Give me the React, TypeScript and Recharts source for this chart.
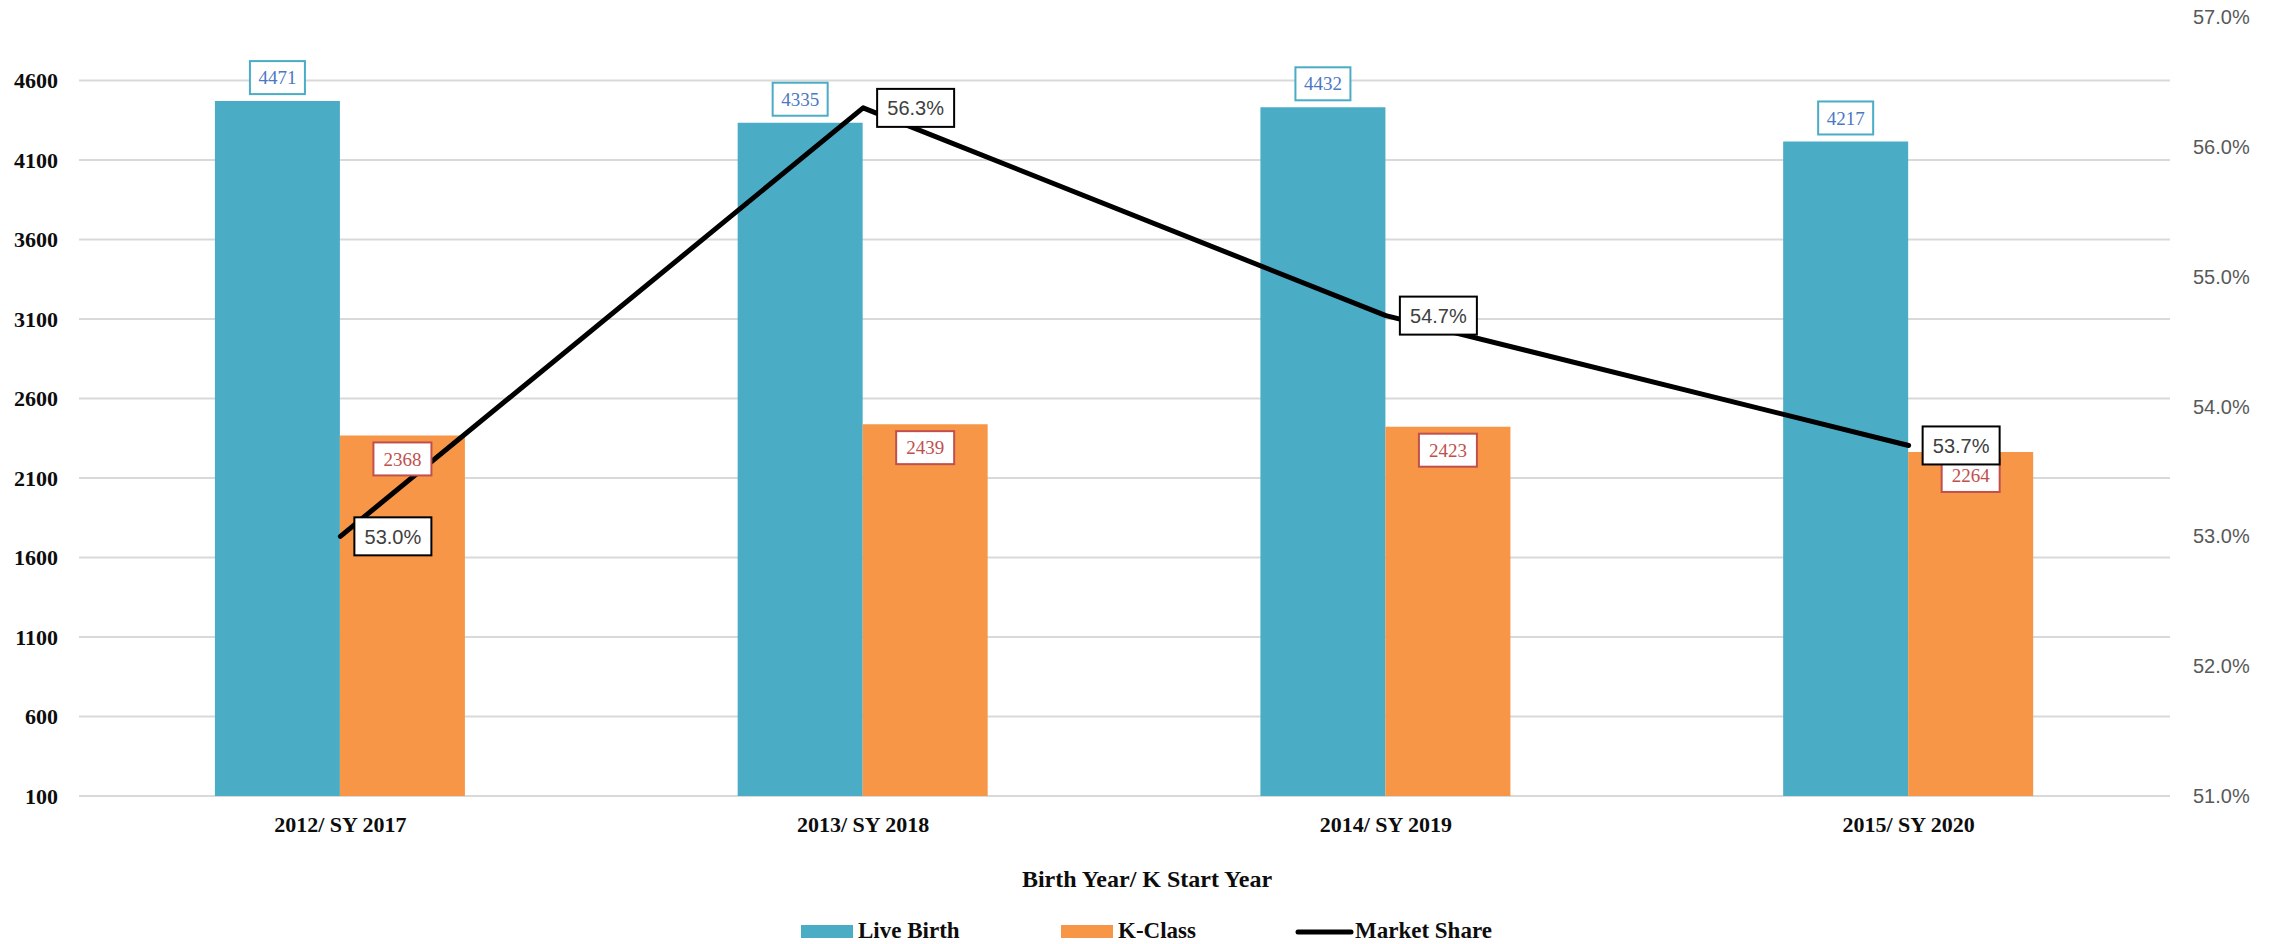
import React from 'react';
import { ComposedChart, Bar, Line, XAxis, YAxis, CartesianGrid, LabelList } from 'recharts';

const categories = ['2012/ SY 2017', '2013/ SY 2018', '2014/ SY 2019', '2015/ SY 2020'];
const liveBirth = [4471, 4335, 4432, 4217];
const kClass = [2368, 2439, 2423, 2264];
const marketShare = [53.0, 56.3, 54.7, 53.7];
const leftTicks = [100, 600, 1100, 1600, 2100, 2600, 3100, 3600, 4100, 4600];
const rightTicks = [51, 52, 53, 54, 55, 56, 57];

const data = categories.map((c, i) => ({ name: c, live: liveBirth[i], k: kClass[i], share: marketShare[i] }));

const BLUE = '#4bacc6';
const ORANGE = '#f79646';
const SERIF = '"Liberation Serif", serif';
const SANS = '"Liberation Sans", sans-serif';

const LiveLabel = (p: any) => {
  const { x, y, width, value } = p;
  const cx = Number(x) + Number(width) / 2;
  const w = 55, h = 33;
  const top = Number(y) - 7 - h;
  return (
    <g>
      <rect x={cx - w / 2} y={top} width={w} height={h} fill="#fff" stroke={BLUE} strokeWidth={2} />
      <text x={cx} y={top + h / 2} dy="0.35em" textAnchor="middle" fontFamily={SERIF} fontSize={19} fill="#4a78c2">{value}</text>
    </g>
  );
};

const KLabel = (p: any) => {
  const { x, y, width, value } = p;
  const cx = Number(x) + Number(width) / 2;
  const w = 58, h = 33;
  const top = Number(y) + 7;
  return (
    <g>
      <rect x={cx - w / 2} y={top} width={w} height={h} fill="#fff" stroke="#c0504d" strokeWidth={2} />
      <text x={cx} y={top + h / 2} dy="0.35em" textAnchor="middle" fontFamily={SERIF} fontSize={19} fill="#c0504d">{value}</text>
    </g>
  );
};

const ShareLabel = (p: any) => {
  const { x, y, value } = p;
  const w = 77, h = 38;
  const left = Number(x) + 14;
  const top = Number(y) - h / 2;
  return (
    <g>
      <rect x={left} y={top} width={w} height={h} fill="#fff" stroke="#000" strokeWidth={2} />
      <text x={left + w / 2} y={Number(y)} dy="0.36em" textAnchor="middle" fontFamily={SANS} fontSize={20} fill="#404040">{Number(value).toFixed(1) + '%'}</text>
    </g>
  );
};

const GridLine = (p: any) => {
  const { x1, y1, x2, y2, y } = p;
  if (Math.abs(Number(y1) - Number(y)) < 1) return <g />;
  return <line x1={x1} y1={y1} x2={x2} y2={y2} stroke="#d9d9d9" strokeWidth={2} />;
};

const tickStyle = { fontFamily: SERIF, fontWeight: 700, fontSize: 22, fill: '#0d0d0d' };

export default function App() {
  return (
    <div style={{ position: 'absolute', left: 0, top: 0, width: 2282, height: 944, background: '#fff' }}>
      <ComposedChart
        width={2282}
        height={944}
        data={data}
        margin={{ top: 17, right: 0, bottom: 88, left: 0 }}
        barGap={0}
        barCategoryGap="26%"
      >
        <CartesianGrid yAxisId="left" horizontal={GridLine} vertical={false} stroke="#d9d9d9" strokeWidth={2} />
        <XAxis
          dataKey="name"
          axisLine={false}
          tickLine={false}
          tickSize={0}
          tickMargin={20}
          height={60}
          tick={tickStyle}
        />
        <YAxis
          yAxisId="left"
          orientation="left"
          domain={[100, 5000]}
          ticks={leftTicks}
          axisLine={false}
          tickLine={false}
          tickSize={0}
          tickMargin={21}
          width={79}
          tick={tickStyle}
          allowDataOverflow
        />
        <YAxis
          yAxisId="right"
          orientation="right"
          domain={[51, 57]}
          ticks={rightTicks}
          axisLine={false}
          tickLine={false}
          tickSize={0}
          tickMargin={23}
          width={112}
          tickFormatter={(v: number) => v.toFixed(1) + '%'}
          tick={{ fontFamily: SANS, fontSize: 20, fill: '#595959' }}
          allowDataOverflow
        />
        <Bar yAxisId="left" dataKey="live" name="Live Birth" fill={BLUE} isAnimationActive={false}>
          <LabelList dataKey="live" content={LiveLabel} />
        </Bar>
        <Bar yAxisId="left" dataKey="k" name="K-Class" fill={ORANGE} isAnimationActive={false}>
          <LabelList dataKey="k" content={KLabel} />
        </Bar>
        <Line
          yAxisId="right"
          type="linear"
          dataKey="share"
          name="Market Share"
          stroke="#000"
          strokeWidth={5}
          strokeLinecap="round"
          strokeLinejoin="round"
          dot={false}
          activeDot={false}
          isAnimationActive={false}
        >
          <LabelList dataKey="share" content={ShareLabel} />
        </Line>
      </ComposedChart>
      <svg width={2282} height={944} style={{ position: 'absolute', left: 0, top: 0, pointerEvents: 'none' }}>
        <text x={1147} y={887} textAnchor="middle" fontFamily={SERIF} fontWeight={700} fontSize={24} fill="#0d0d0d">Birth Year/ K Start Year</text>
        <rect x={801} y={925} width={52} height={13} fill={BLUE} />
        <text x={858} y={938} fontFamily={SERIF} fontWeight={700} fontSize={23} fill="#0d0d0d">Live Birth</text>
        <rect x={1061} y={925} width={52} height={13} fill={ORANGE} />
        <text x={1118} y={938} fontFamily={SERIF} fontWeight={700} fontSize={23} fill="#0d0d0d">K-Class</text>
        <line x1={1298} y1={932} x2={1351} y2={932} stroke="#000" strokeWidth={5} strokeLinecap="round" />
        <text x={1355} y={938} fontFamily={SERIF} fontWeight={700} fontSize={23} fill="#0d0d0d">Market Share</text>
      </svg>
    </div>
  );
}
